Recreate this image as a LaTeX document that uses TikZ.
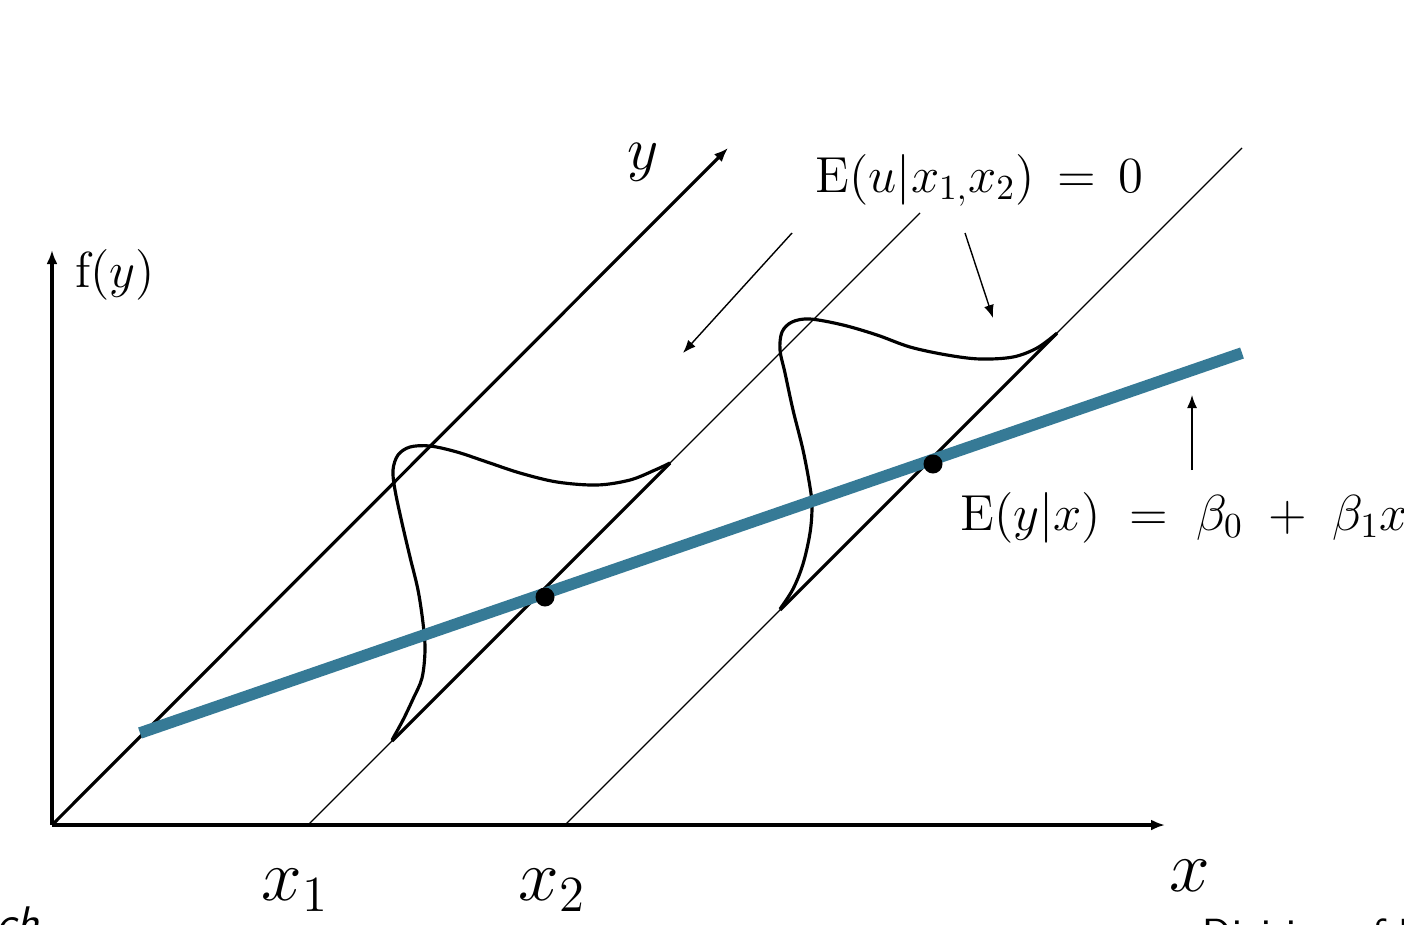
\documentclass[tikz,border=0pt]{standalone}
\usepackage{tikz}
\usetikzlibrary{arrows.meta}
\definecolor{regblue}{RGB}{54,122,150}

\begin{document}
\begin{tikzpicture}[x=0.01cm, y=-0.01cm,
  axis/.style={line width=0.9pt, -{Latex[length=1.4mm, width=1.1mm]}},
  guide/.style={line width=0.35pt},
  support/.style={line width=0.9pt},
  density/.style={line width=0.9pt, smooth, tension=0.55},
  pointer/.style={line width=0.4pt, -{Latex[length=1.3mm, width=1mm]}}]
\useasboundingbox (0,0) rectangle (1404,924);

\coordinate (o) at (52,825);
\coordinate (xend) at (1165,825);
\coordinate (fend) at (52,250);
\coordinate (yend) at (728,148);
\coordinate (x1base) at (308,825);
\coordinate (x1top) at (920,213);
\coordinate (x2base) at (565,825);
\coordinate (x2top) at (1242,148);
\coordinate (regA) at (140,733);
\coordinate (regB) at (1242,353);

\draw[axis] (o) -- (xend);
\draw[axis] (o) -- (fend);
\draw[axis] (o) -- (yend);
\draw[guide] (x1base) -- (x1top);
\draw[guide] (x2base) -- (x2top);

\draw[support] (392,741) -- (670,463);
\draw[support] (780,610) -- (1057,333);

\draw[density] plot coordinates {(392,740) (403,720) (413,699) (422,678) (425,650)
  (423,623) (418,590) (410,557) (402,523) (395,490) (393,470) (398,455) (410,447)
  (430,446) (457,452) (487,462) (520,473) (557,482) (597,485) (630,480) (655,470) (670,463)};
\draw[density] plot coordinates {(780,609) (793,589) (803,564) (810,533) (812,507)
  (810,487) (803,450) (793,410) (785,373) (780,350) (782,332) (792,322) (810,319)
  (843,325) (877,335) (910,347) (947,355) (980,359) (1013,357) (1037,348) (1056,334)};

\draw[regblue, line width=3.3pt] (regA) -- (regB);
\fill (545,597) circle (9.5);
\fill (933,464) circle (9.5);

\node (fy) at (115,275) {\fontsize{14}{17}\selectfont $\mathrm{f}(y)$};
\node (ylab) at (643,162) {\fontsize{19}{22}\selectfont $y$};
\node (xlab) at (1190,876) {\fontsize{21}{25}\selectfont $x$};
\node (x1lab) at (295,890) {\fontsize{21}{25}\selectfont $x_1$};
\node (x2lab) at (552,890) {\fontsize{21}{25}\selectfont $x_2$};
\node[anchor=base west, inner sep=0pt] (condu) at (815,192)
  {\fontsize{14}{17}\selectfont $\mathrm{E}(u|x_{1,}x_2)\,=\,0$};
\node[anchor=base west, inner sep=0pt] (condy) at (960,530)
  {\fontsize{14}{17}\selectfont $\mathrm{E}(y|x)\;=\;\beta_0\;+\;\beta_1x$};
\node[anchor=north west, inner sep=0pt] (srcl) at (-4,906)
  {\fontsize{13}{15}\selectfont\sffamily\itshape ch};
\node[anchor=north west, inner sep=0pt] (srcr) at (1202,918)
  {\fontsize{12}{14}\selectfont\sffamily Division of Economics};

\coordinate (p1s) at (792,233);
\coordinate (p1e) at (683,353);
\coordinate (p2s) at (965,233);
\coordinate (p2e) at (993,318);
\coordinate (p3s) at (1192,470);
\coordinate (p3e) at (1192,395);
\draw[pointer] (p1s) -- (p1e);
\draw[pointer] (p2s) -- (p2e);
\draw[pointer] (p3s) -- (p3e);
\end{tikzpicture}
\end{document}
